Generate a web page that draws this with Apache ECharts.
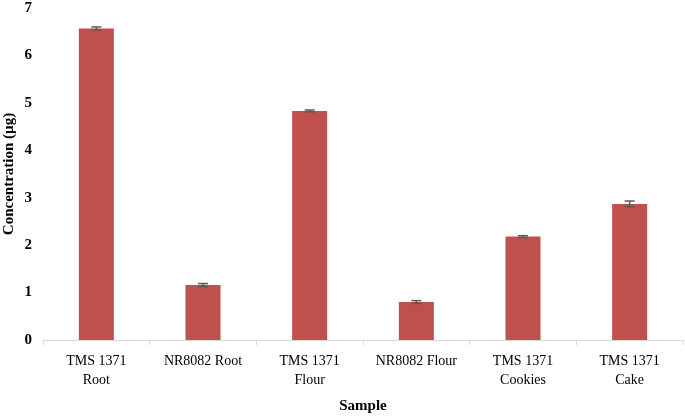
<!DOCTYPE html>
<html>
<head>
<meta charset="utf-8">
<script src="https://cdn.jsdelivr.net/npm/echarts@6/dist/echarts.min.js"></script>
<style>html,body{margin:0;padding:0;background:#fff}#c{width:685px;height:416px}</style>
</head>
<body>
<div id="c"></div>
<script>
const categories = ['TMS 1371\nRoot', 'NR8082 Root', 'TMS 1371\nFlour', 'NR8082 Flour', 'TMS 1371\nCookies', 'TMS 1371\nCake'];
const values = [6.57, 1.16, 4.83, 0.80, 2.18, 2.87];
const errors = [0.03, 0.03, 0.02, 0.03, 0.02, 0.06];
const yTicks = [0, 1, 2, 3, 4, 5, 6, 7];

const font = '"Liberation Serif", "Times New Roman", serif';
const chart = echarts.init(document.getElementById('c'), null, {renderer: 'canvas'});
const errData = values.map((v, i) => [i, v - errors[i], v + errors[i]]);
chart.setOption({
  animation: false,
  grid: {left: 43, right: 2, top: 8, bottom: 76, containLabel: false, outerBoundsMode: 'none'},
  xAxis: {
    type: 'category', data: categories,
    name: 'Sample', nameLocation: 'middle', nameGap: 59, nameMoveOverlap: false,
    nameTextStyle: {fontFamily: font, fontSize: 15, fontWeight: 'bold', color: '#000'},
    axisLine: {lineStyle: {color: '#D9D9D9', width: 1}},
    axisTick: {show: true, alignWithLabel: false, length: 5, lineStyle: {color: '#D9D9D9'}},
    axisLabel: {fontFamily: font, fontSize: 14, color: '#000', margin: 12, lineHeight: 19, interval: 0}
  },
  yAxis: {
    type: 'value', min: yTicks[0], max: yTicks[yTicks.length - 1], interval: 1,
    name: 'Concentration (µg)', nameLocation: 'middle', nameGap: 26, nameMoveOverlap: false,
    nameTextStyle: {fontFamily: font, fontSize: 15, fontWeight: 'bold', color: '#000'},
    axisLine: {show: false}, axisTick: {show: false}, splitLine: {show: false},
    axisLabel: {fontFamily: font, fontSize: 15, fontWeight: 'bold', color: '#000', margin: 11}
  },
  series: [
    {type: 'bar', data: values, barWidth: 35, itemStyle: {color: '#C0504D'}, z: 2},
    {type: 'custom', data: errData, z: 5,
      renderItem: function (params, api) {
        const x = api.value(0);
        const lo = api.coord([x, api.value(1)]);
        const hi = api.coord([x, api.value(2)]);
        const hw = 5;
        const st = {stroke: '#595959', lineWidth: 1.5};
        return {type: 'group', children: [
          {type: 'line', shape: {x1: lo[0], y1: lo[1], x2: hi[0], y2: hi[1]}, style: st},
          {type: 'line', shape: {x1: lo[0] - hw, y1: lo[1], x2: lo[0] + hw, y2: lo[1]}, style: st},
          {type: 'line', shape: {x1: hi[0] - hw, y1: hi[1], x2: hi[0] + hw, y2: hi[1]}, style: st}
        ]};
      }
    }
  ]
});
</script>
</body>
</html>
